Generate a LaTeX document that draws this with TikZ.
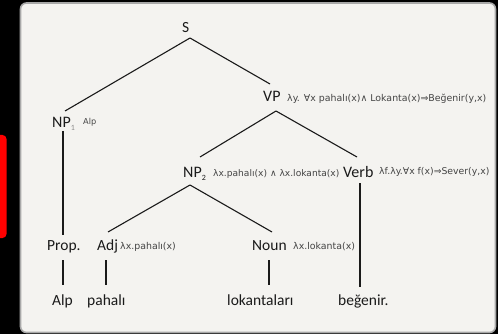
\documentclass[tikz,border=0pt]{standalone}
\usepackage{fontspec}
\setmainfont{Carlito}
\newfontfamily\semfont{DejaVu Sans}
\definecolor{panel}{HTML}{F4F3F0}
\definecolor{rim}{HTML}{A8A8A8}
\definecolor{ink}{HTML}{1A1A1A}
\definecolor{semink}{HTML}{444444}
\newcommand{\subnum}[2]{{\fontsize{8}{8}\selectfont\color{#1}\raisebox{-3pt}{#2}}}
\begin{document}
\begin{tikzpicture}[x=1pt,y=-1pt,
  cat/.style={font=\fontsize{16}{16}\selectfont, text=ink, inner sep=0pt, anchor=base west},
  word/.style={font=\fontsize{15.5}{16}\selectfont, text=ink, inner sep=0pt, anchor=base west},
  sem/.style={font=\semfont\fontsize{9.4}{10}\selectfont, text=semink, inner sep=0pt, anchor=base west},
  branch/.style={draw=ink, line width=1.1pt}]
\useasboundingbox (0,0) rectangle (498,334);
\fill[black] (0,0) rectangle (498,334);
\fill[red, rounded corners=4pt] (-8,135) rectangle (6.5,238);
\draw[fill=panel, draw=rim, line width=1.6pt, rounded corners=6pt] (20.5,3) rectangle (495.5,332.5);

\node[word] (S) at (182,33) {S};
\node[cat] (VP) at (263,102) {VP};
\node[sem] (VPsem) at (287,102) {λy. ∀x pahalı(x)∧ Lokanta(x)⇒Beğenir(y,x)};
\node[cat] (NP1) at (52,128) {NP\subnum{black!45}{1}};
\node[sem,font=\semfont\fontsize{8.2}{8}\selectfont] (NP1sem) at (83,125) {Alp};
\node[cat] (NP2) at (183,177) {NP\subnum{ink}{2}};
\node[sem,font=\semfont\fontsize{9.1}{10}\selectfont] (NP2sem) at (213,176) {λx.pahalı(x) ∧ λx.lokanta(x)};
\node[cat] (Verb) at (343,177) {Verb};
\node[sem,font=\semfont\fontsize{9.3}{10}\selectfont] (Verbsem) at (379,175) {λf.λy.∀x f(x)⇒Sever(y,x)};
\node[word] (Prop) at (47,250) {Prop.};
\node[word] (Adj) at (97,250) {Adj};
\node[sem] (Adjsem) at (120,249) {λx.pahalı(x)};
\node[word] (Noun) at (252,250) {Noun};
\node[sem] (Nounsem) at (293,249) {λx.lokanta(x)};
\node[word] (Alp) at (52,305) {Alp};
\node[word] (pahali) at (87,305) {pahalı};
\node[word] (lokantalari) at (227,305) {lokantaları};
\node[word] (begenir) at (338,305) {beğenir.};

\draw[branch] ([xshift=8pt,yshift=-5pt]S.base west) -- ([xshift=13pt,yshift=17pt]NP1.base west);
\draw[branch] ([xshift=8pt,yshift=-5pt]S.base west) -- ([xshift=7pt,yshift=18pt]VP.base west);
\draw[branch] ([xshift=11pt,yshift=-3pt]NP1.base west) -- ([xshift=16pt,yshift=15pt]Prop.base west);
\draw[branch] ([xshift=13pt,yshift=-9pt]VP.base west) -- ([xshift=17pt,yshift=20pt]NP2.base west);
\draw[branch] ([xshift=13pt,yshift=-9pt]VP.base west) -- ([xshift=14pt,yshift=20pt]Verb.base west);
\draw[branch] ([xshift=7pt,yshift=-8pt]NP2.base west) -- ([xshift=11pt,yshift=18pt]Adj.base west);
\draw[branch] ([xshift=7pt,yshift=-8pt]NP2.base west) -- ([xshift=20pt,yshift=18pt]Noun.base west);
\draw[branch] ([xshift=17pt,yshift=-6pt]Verb.base west) -- ([xshift=22pt,yshift=18pt]begenir.base west);
\draw[branch] ([xshift=16pt,yshift=-10pt]Prop.base west) -- ([xshift=11pt,yshift=20pt]Alp.base west);
\draw[branch] ([xshift=9pt,yshift=-10pt]Adj.base west) -- ([xshift=19pt,yshift=20pt]pahali.base west);
\draw[branch] ([xshift=17pt,yshift=-10pt]Noun.base west) -- ([xshift=42pt,yshift=20pt]lokantalari.base west);
\end{tikzpicture}
\end{document}
